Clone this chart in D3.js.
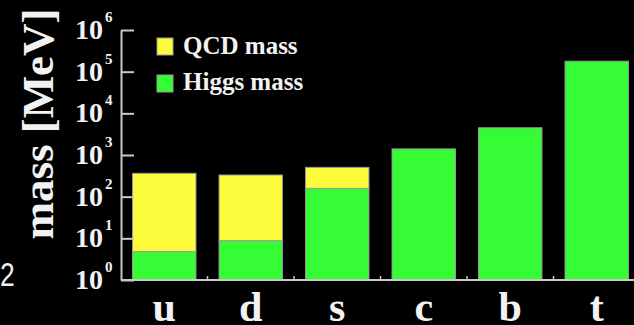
<!DOCTYPE html>
<html>
<head>
<meta charset="utf-8">
<script src="https://cdn.jsdelivr.net/npm/d3@7"></script>
<style>
  html, body { margin: 0; padding: 0; background: #000; }
  svg { display: block; }
  text { font-family: "Liberation Serif", "Times New Roman", serif; font-weight: bold; fill: #f2f2f2; }
</style>
</head>
<body>
<svg id="chart" width="634" height="325"></svg>
<script>
// Quark masses in MeV: part from the Higgs mechanism, part from QCD binding
const quarks = ["u", "d", "s", "c", "b", "t"];
const higgsMass = [4.8, 8.8, 158, 1400, 4500, 178000];
const qcdMass = [358, 322, 347, 0, 0, 0];
const tickExponents = [0, 1, 2, 3, 4, 5, 6];
const legendLabels = ["QCD mass", "Higgs mass"];

const colors = { qcd: "#fcfc3c", higgs: "#36fc36" };
const axisColor = "#c8c8c8";

const svg = d3.select("#chart");

const y = d3.scaleLog().domain([1, 1e6]).range([280, 30]);
const x = d3.scaleBand().domain(quarks).range([121, 640])
  .paddingInner(0.267).paddingOuter(0.1335);

// slide page number at the left edge
svg.append("text")
  .attr("transform", "translate(0,286) scale(0.8,1)")
  .style("font-family", "'Liberation Sans', 'Open Sans', sans-serif")
  .style("font-weight", "normal")
  .style("font-size", "33px")
  .style("fill", "#eee")
  .text("2");

// bars: Higgs part from the baseline, QCD part stacked on top
const bars = svg.append("g");
quarks.forEach((q, i) => {
  const h = higgsMass[i], t = higgsMass[i] + qcdMass[i];
  bars.append("rect")
    .attr("x", x(q)).attr("width", x.bandwidth())
    .attr("y", y(h)).attr("height", y(1) - y(h))
    .attr("fill", colors.higgs).attr("stroke", "#9a9a9a").attr("stroke-width", 1);
  if (qcdMass[i] > 0) {
    bars.append("rect")
      .attr("x", x(q)).attr("width", x.bandwidth())
      .attr("y", y(t)).attr("height", y(h) - y(t))
      .attr("fill", colors.qcd).attr("stroke", "#9a9a9a").attr("stroke-width", 1);
  }
});

// y axis: ticks pointing inward, labels as powers of ten
const yAxis = svg.append("g").attr("transform", "translate(121,0)")
  .call(d3.axisRight(y).tickValues(tickExponents.map(e => Math.pow(10, e)))
    .tickSize(13).tickSizeOuter(0).tickFormat(""));
yAxis.select(".domain").attr("stroke", axisColor).attr("stroke-width", 2);
yAxis.selectAll(".tick line").attr("stroke", axisColor).attr("stroke-width", 2);

const labels = svg.append("g");
tickExponents.forEach(e => {
  const t = labels.append("text")
    .attr("x", 75).attr("y", y(Math.pow(10, e)) + 9)
    .style("font-size", "28px");
  t.append("tspan").text("10");
  t.append("tspan").attr("dx", 2).attr("dy", -17)
    .style("font-size", "15px").text(e);
});

// x axis baseline with small marks between categories
const xAxisG = svg.append("g");
xAxisG.append("line")
  .attr("x1", 121).attr("x2", 634).attr("y1", 280).attr("y2", 280)
  .attr("stroke", axisColor).attr("stroke-width", 2);
const step = x.step();
quarks.slice(1).forEach(q => {
  const bx = x(q) - x.paddingInner() * step / 2;
  xAxisG.append("line")
    .attr("x1", bx).attr("x2", bx).attr("y1", 280).attr("y2", 276)
    .attr("stroke", axisColor).attr("stroke-width", 1.5);
});

// category labels
svg.append("g").selectAll("text").data(quarks).join("text")
  .attr("x", d => x(d) + x.bandwidth() / 2)
  .attr("y", 321)
  .attr("text-anchor", "middle")
  .style("font-size", "42px")
  .text(d => d);

// y axis title
svg.append("text")
  .attr("transform", "translate(53,124) rotate(-90)")
  .attr("text-anchor", "middle")
  .style("font-size", "45px")
  .text("mass [MeV]");

// legend
const legend = svg.append("g");
[[colors.qcd, 38, 54], [colors.higgs, 75, 90]].forEach(([c, ry, ty], i) => {
  legend.append("rect")
    .attr("x", 157).attr("y", ry).attr("width", 16).attr("height", 17)
    .attr("fill", c).attr("stroke", "#9a9a9a").attr("stroke-width", 1);
  legend.append("text")
    .attr("x", 183).attr("y", ty)
    .style("font-size", "25px")
    .text(legendLabels[i]);
});
</script>
</body>
</html>
